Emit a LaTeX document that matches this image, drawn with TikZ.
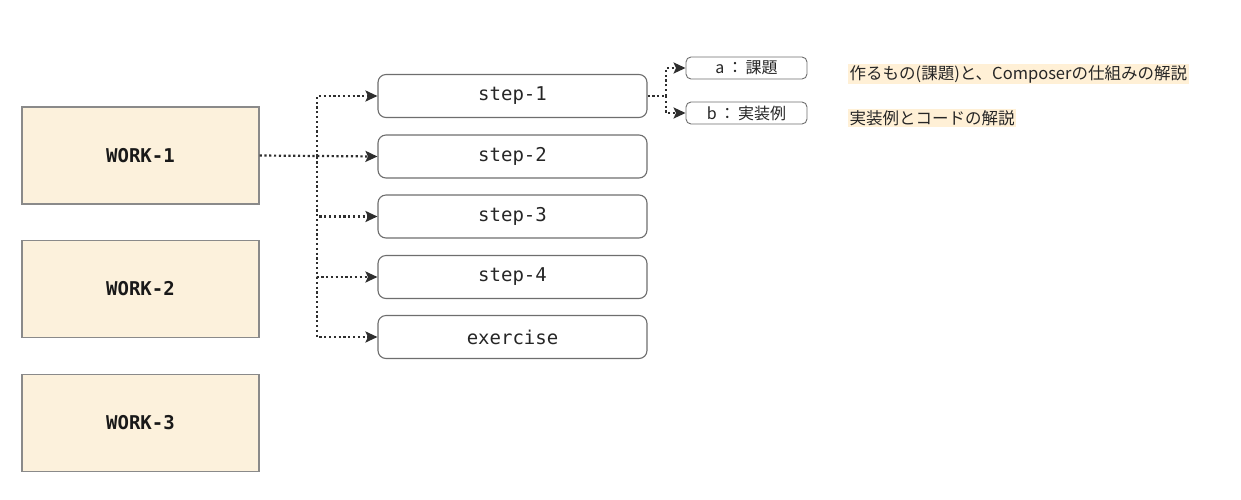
\documentclass[tikz,border=0pt]{standalone}
\usepackage{fontspec}
\setmonofont{DejaVu Sans Mono}
\newfontfamily\jpfont{Noto Sans CJK JP}
\usepackage{xcolor}
\definecolor{wkfill}{HTML}{FCF1DC}
\definecolor{wkdraw}{HTML}{8A8A8A}
\definecolor{stdraw}{HTML}{6E6E6E}
\definecolor{lnk}{HTML}{2E2E2E}
\definecolor{hilite}{HTML}{FFF0D6}
\usetikzlibrary{arrows.meta,positioning}

\begin{document}
\begin{tikzpicture}[x=1pt,y=-1pt,
  workbox/.style={draw=wkdraw,fill=wkfill,line width=1.2pt,
    minimum width=237pt,minimum height=97pt,
    font=\ttfamily\bfseries\fontsize{19}{22}\selectfont,text=black!90},
  stepbox/.style={draw=stdraw,fill=white,rounded corners=8pt,line width=1.1pt,
    minimum width=269pt,minimum height=43pt,
    font=\ttfamily\fontsize{19}{22}\selectfont,text=black!85},
  subbox/.style={draw=stdraw,fill=white,rounded corners=5pt,line width=0.9pt,
    minimum width=121pt,minimum height=22pt,inner sep=0pt,
    font=\jpfont\fontsize{16}{18}\selectfont,text=black!85},
  note/.style={fill=hilite,inner sep=1.5pt,anchor=west,
    font=\jpfont\fontsize{16.5}{19}\selectfont,text=black!85},
  dotline/.style={lnk,line width=2.2pt,dash pattern=on 2.2pt off 2.6pt},
  link/.style={dotline,-{Stealth[length=12pt,width=11pt,inset=2.5pt]}}
]
  \useasboundingbox (0,0) rectangle (1241,499);

  % Works
  \node[workbox] (work1) at (140.5,155.5) {WORK-1};
  \node[workbox] (work2) at (140.5,289) {WORK-2};
  \node[workbox] (work3) at (140.5,423) {WORK-3};

  % Steps of WORK-1
  \node[stepbox] (step1) at (512.5,96) {step-1};
  \node[stepbox] (step2) at (512.5,156.5) {step-2};
  \node[stepbox] (step3) at (512.5,216.5) {step-3};
  \node[stepbox] (step4) at (512.5,277) {step-4};
  \node[stepbox] (exer) at (512.5,337) {exercise};

  % Parts of step-1
  \node[subbox] (parta) at (746.5,68) {a\,：\,課題};
  \node[subbox] (partb) at (746.5,113) {b\,：\,実装例};
  \node[note] (notea) at (848,74) {作るもの(課題)と、Composerの仕組みの解説};
  \node[note] (noteb) at (848,118) {実装例とコードの解説};

  % Links
  \coordinate (fork) at (317,156.5);
  \coordinate (split) at (666,96);
  \draw[link] (work1.east) -- (step2.west);
  \draw[link] (fork) |- (step1.west);
  \draw[link] (fork) |- (step3.west);
  \draw[link] (fork) |- (step4.west);
  \draw[link] (step4.west -| fork) |- (exer.west);
  \draw[dotline] (step1.east) -- (split);
  \draw[link] (split) |- (parta.west);
  \draw[link] (split) |- (partb.west);
\end{tikzpicture}
\end{document}
